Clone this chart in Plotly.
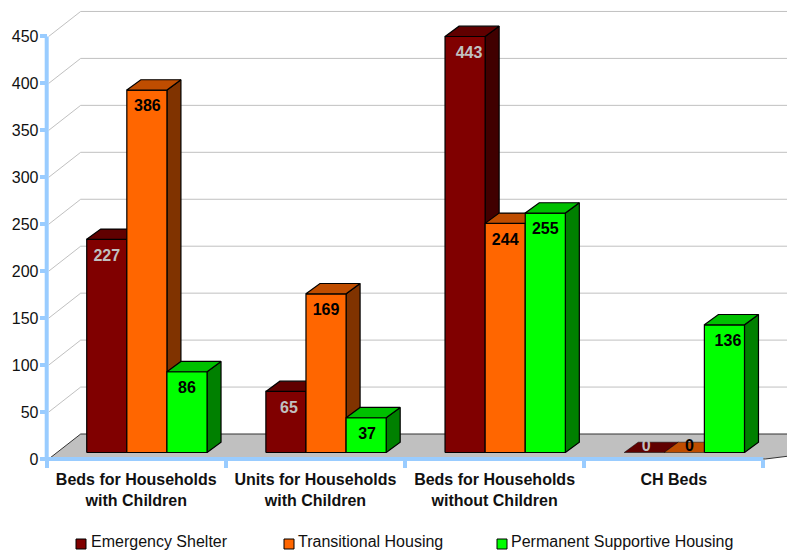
import plotly.graph_objects as go

# Chart data
categories = [
    "Beds for Households<br>with Children",
    "Units for Households<br>with Children",
    "Beds for Households<br>without Children",
    "CH Beds",
]
emergency_shelter = [227, 65, 443, 0]
transitional_housing = [386, 169, 244, 0]
permanent_supportive = [86, 37, 255, 136]
value_ticks = [0, 50, 100, 150, 200, 250, 300, 350, 400, 450]

series_names = ["Emergency Shelter", "Transitional Housing", "Permanent Supportive Housing"]
series_values = [emergency_shelter, transitional_housing, permanent_supportive]

# Face colours per series: front, side, top; then the data label colour
front_colors = ["#800000", "#FF6600", "#00FF00"]
side_colors = ["#400000", "#803300", "#008000"]
top_colors = ["#600000", "#BF4D00", "#00C000"]
label_colors = ["#C0C0C0", "#000000", "#000000"]

# Horizontal label nudges in pixels, per category and series
label_nudge = [[0, 0.5, 0], [3, 0, 1], [4, 0, 0], [2, 5, 3.5]]

FONT = "Liberation Sans, Arial, sans-serif"
AXIS_BLUE = "#99CCFF"
GRID_GRAY = "#C0C0C0"

# Canvas geometry and the resulting axis scales
WIDTH, HEIGHT = 787, 552
LEFT, BASE = 46.7, 459.0
CAT_PX = 179.15
VAL_PX = 0.939

# Pseudo-3D projection, converted to axis units
wall_dx, wall_dy = 32 / CAT_PX, 25 / VAL_PX
depth_dx, depth_dy = 14 / CAT_PX, 10.3 / VAL_PX
lift_dx, lift_dy = 10.6 / CAT_PX, 6.5 / VAL_PX
bar_w = 40.1 / CAT_PX

# The axes span the whole canvas; the visible axis lines are positioned inside it
x_start = -0.5
x_min = x_start - LEFT / CAT_PX
x_max = x_start + (WIDTH - LEFT) / CAT_PX
y_min = -(HEIGHT - BASE) / VAL_PX
y_max = BASE / VAL_PX

fig = go.Figure()


def face(xs, ys, fill, line="#000000", width=1.2):
    fig.add_trace(go.Scatter(
        x=xs + xs[:1], y=ys + ys[:1], mode="lines", fill="toself", fillcolor=fill,
        line=dict(color=line, width=width), hoverinfo="skip", showlegend=False,
    ))


# Floor
n = len(categories)
face(
    [x_start + 2 / CAT_PX, x_start + 2 / CAT_PX + wall_dx, x_max + 1, x_start + n + 2 / CAT_PX],
    [0, wall_dy, wall_dy, 0],
    GRID_GRAY, line="#333333", width=1,
)

# Gridlines run up the side wall and along the back wall
grid_x, grid_y = [], []
for v in value_ticks[1:]:
    grid_x += [x_start + 2 / CAT_PX, x_start + 2 / CAT_PX + wall_dx, x_max, None]
    grid_y += [v, v + wall_dy, v + wall_dy, None]
fig.add_trace(go.Scatter(
    x=grid_x, y=grid_y, mode="lines", line=dict(color=GRID_GRAY, width=1),
    hoverinfo="skip", showlegend=False,
))

# Bars, painted left to right so nearer faces cover the ones behind them
label_x, label_y, label_text, label_color = [], [], [], []
for i in range(n):
    for j, values in enumerate(series_values):
        v = values[i]
        x0 = i + lift_dx + (j - 1.5) * bar_w
        x1 = x0 + bar_w
        y0 = lift_dy
        y1 = lift_dy + v
        if v > 0:
            face([x1, x1 + depth_dx, x1 + depth_dx, x1],
                 [y0, y0 + depth_dy, y1 + depth_dy, y1], side_colors[j])
            face([x0, x1, x1, x0], [y0, y0, y1, y1], front_colors[j])
        face([x0, x1, x1 + depth_dx, x0 + depth_dx],
             [y1, y1, y1 + depth_dy, y1 + depth_dy], top_colors[j],
             width=1.2 if v > 0 else 0.5)
        label_x.append((x0 + x1) / 2 + label_nudge[i][j] / CAT_PX)
        label_y.append(lift_dy + max(v - 18.5, 6))
        label_text.append(str(v))
        label_color.append(label_colors[j])

# Blue axis lines
fig.add_trace(go.Scatter(
    x=[x_start, x_start + n], y=[0, 0], mode="lines",
    line=dict(color=AXIS_BLUE, width=4), hoverinfo="skip", showlegend=False,
))
fig.add_trace(go.Scatter(
    x=[x_start, x_start], y=[0, value_ticks[-1]], mode="lines",
    line=dict(color=AXIS_BLUE, width=4), hoverinfo="skip", showlegend=False,
))

# Data labels
fig.add_trace(go.Scatter(
    x=label_x, y=label_y, mode="text", text=label_text, textposition="middle center",
    textfont=dict(family=FONT, size=16, color=label_color, weight=700),
    hoverinfo="skip", showlegend=False,
))

# Key below the axis: one swatch and name per series, spaced by pixel offset
key_swatch_px = [81, 289, 502]
key_text_px = [91, 298, 511]
for name, color, swatch_px, text_px in zip(series_names, front_colors, key_swatch_px, key_text_px):
    fig.add_trace(go.Scatter(
        x=[x_start + (swatch_px - LEFT) / CAT_PX], y=[(BASE - 544) / VAL_PX], mode="markers",
        marker=dict(symbol="square", size=10, color=color, line=dict(color="#000000", width=1)),
        hoverinfo="skip", showlegend=False,
    ))
    fig.add_trace(go.Scatter(
        x=[x_start + (text_px - LEFT) / CAT_PX], y=[(BASE - 543) / VAL_PX], mode="text",
        text=[name], textposition="middle right",
        textfont=dict(family=FONT, size=16, color="#111111"),
        hoverinfo="skip", showlegend=False,
    ))

fig.update_layout(
    width=WIDTH, height=HEIGHT, autosize=False,
    margin=dict(l=0, r=0, t=0, b=0, pad=0),
    paper_bgcolor="white", plot_bgcolor="white",
    showlegend=False, hovermode=False,
    font=dict(family=FONT, color="#111111"),
    xaxis=dict(
        range=[x_min, x_max], domain=[0, 1], anchor="free",
        position=(HEIGHT - BASE) / HEIGHT,
        showgrid=False, zeroline=False, showline=False,
        tickmode="array", tickvals=list(range(n)), ticktext=categories,
        ticks="", ticklabelstandoff=9,
        tickfont=dict(family=FONT, size=16, color="#111111", weight=700),
        minor=dict(
            tickmode="array", tickvals=[x_start + k for k in range(n + 1)],
            ticks="outside", ticklen=8, tickwidth=4, tickcolor=AXIS_BLUE, showgrid=False,
        ),
    ),
    yaxis=dict(
        range=[y_min, y_max], domain=[0, 1], anchor="free",
        position=LEFT / WIDTH,
        showgrid=False, zeroline=False, showline=False,
        tickmode="array", tickvals=value_ticks, ticktext=[str(v) for v in value_ticks],
        ticks="outside", ticklen=7, tickwidth=4, tickcolor=AXIS_BLUE, ticklabelstandoff=-2,
        tickfont=dict(family=FONT, size=16, color="#111111"),
    ),
)

fig.write_html("out.html", config=dict(displayModeBar=False))
